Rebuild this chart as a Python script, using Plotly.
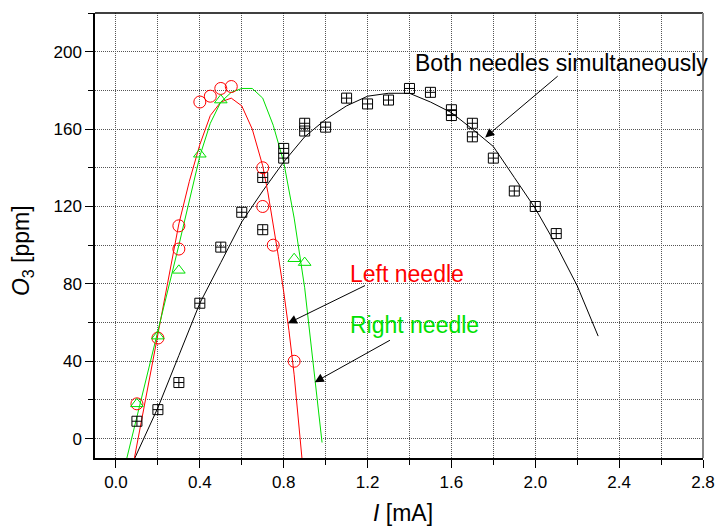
import plotly.graph_objects as go

# measured points, I [mA] vs O3 [ppm]
both_x = [0.1, 0.2, 0.3, 0.4, 0.5, 0.6, 0.7, 0.7, 0.8, 0.8, 0.9, 0.9, 1.0, 1.1, 1.2, 1.3,
          1.4, 1.5, 1.6, 1.6, 1.7, 1.7, 1.8, 1.9, 2.0, 2.1]
both_y = [9, 15, 29, 70, 99, 117, 108, 135, 145, 150, 159, 163, 161, 176, 173, 175,
          181, 179, 167, 170, 156, 163, 145, 128, 120, 106]

left_x = [0.1, 0.2, 0.3, 0.3, 0.4, 0.45, 0.5, 0.55, 0.7, 0.7, 0.75, 0.85]
left_y = [18, 52, 98, 110, 174, 177, 181, 182, 140, 120, 100, 40]

right_x = [0.1, 0.2, 0.3, 0.4, 0.5, 0.85, 0.9]
right_y = [18, 53, 87, 147, 175, 93, 91]

# fitted curves
both_fit_x = [0.09, 0.2, 0.3, 0.4, 0.5, 0.6, 0.7, 0.8, 0.9, 1.0, 1.1, 1.2, 1.3, 1.4,
              1.5, 1.6, 1.7, 1.8, 1.9, 2.0, 2.1, 2.2, 2.3]
both_fit_y = [-10, 16, 43, 70, 91, 112, 128, 143, 156, 165, 172, 177, 178.5, 178.5,
              174, 168.5, 160, 151, 135, 119, 100, 79, 53]

left_fit_x = [0.088, 0.2, 0.3, 0.35, 0.4, 0.45, 0.5, 0.55, 0.6, 0.65, 0.7, 0.725,
              0.75, 0.775, 0.8, 0.825, 0.85, 0.887]
left_fit_y = [-10, 54, 111, 133, 152, 167, 174, 176, 172, 160, 141, 127,
              111, 94, 76, 56, 33, -10]

right_fit_x = [0.052, 0.1, 0.2, 0.3, 0.4, 0.45, 0.5, 0.55, 0.6, 0.65, 0.7, 0.75,
               0.8, 0.85, 0.9, 0.95, 0.983]
right_fit_y = [-10, 11, 56, 100, 146, 163, 174, 179, 181, 181, 176, 162,
               143, 114, 78, 28, -2]

FONT = "Arial, Liberation Sans, sans-serif"
RED = "#ff0000"
GREEN = "#00e000"

fig = go.Figure()

fig.add_trace(go.Scatter(x=both_fit_x, y=both_fit_y, mode="lines",
                         line=dict(color="black", width=1)))
fig.add_trace(go.Scatter(x=left_fit_x, y=left_fit_y, mode="lines",
                         line=dict(color=RED, width=1)))
fig.add_trace(go.Scatter(x=right_fit_x, y=right_fit_y, mode="lines",
                         line=dict(color=GREEN, width=1)))

fig.add_trace(go.Scatter(x=both_x, y=both_y, mode="markers",
                         marker=dict(symbol="square-cross-open", size=10, color="black",
                                     line=dict(width=1, color="black"))))
fig.add_trace(go.Scatter(x=left_x, y=left_y, mode="markers",
                         marker=dict(symbol="circle-open", size=12, color=RED,
                                     line=dict(width=1, color=RED))))
fig.add_trace(go.Scatter(x=right_x, y=right_y, mode="markers",
                         marker=dict(symbol="triangle-up-open", size=11, color=GREEN,
                                     line=dict(width=1, color=GREEN))))

# labels with arrows
labels = [
    ("Both needles simultaneously", "black", 1.415, 194, 2.114, 188, 1.761, 155.7),
    ("Left needle", RED, 1.107, 85, 1.195, 79.5, 0.82, 59.6),
    ("Right needle", GREEN, 1.107, 58.5, 1.314, 51.3, 0.948, 29.2),
]
for txt, col, tx, ty, ax, ay, hx, hy in labels:
    fig.add_annotation(x=tx, y=ty, text=txt, showarrow=False, xanchor="left",
                       yanchor="middle", font=dict(family=FONT, size=23, color=col))
    fig.add_annotation(x=hx, y=hy, ax=ax, ay=ay, axref="x", ayref="y", text="",
                       showarrow=True, arrowhead=2, arrowsize=1.8, arrowwidth=1,
                       arrowcolor="black")

# axis titles
fig.add_annotation(xref="paper", yref="paper", x=-0.12, y=0.465, textangle=-90,
                   xanchor="center", yanchor="middle",
                   text="<i>O</i><sub>3</sub> [ppm]", showarrow=False,
                   font=dict(family=FONT, size=23, color="black"))
fig.add_annotation(xref="paper", yref="paper", x=0.507, y=-0.124,
                   xanchor="center", yanchor="middle",
                   text="<i>I</i> [mA]", showarrow=False,
                   font=dict(family=FONT, size=23, color="black"))

# top and right frame
fig.add_shape(type="line", xref="paper", yref="paper", x0=0, x1=1, y0=1, y1=1,
              line=dict(color="black", width=1.5))
fig.add_shape(type="line", xref="paper", yref="paper", x0=1, x1=1, y0=0, y1=1,
              line=dict(color="#888888", width=2))

grid = dict(showgrid=True, gridcolor="#555555", gridwidth=1, griddash="1px,1px")

fig.update_xaxes(range=[-0.1, 2.8], tick0=0, dtick=0.4, tickformat=".1f",
                 ticks="outside", ticklen=8, tickcolor="black", showline=True,
                 linecolor="black", linewidth=1.5, zeroline=False, automargin=False,
                 minor=dict(dtick=0.2, ticks="outside", ticklen=5, tickcolor="black", **grid),
                 tickfont=dict(family=FONT, size=17, color="black"),
                 **grid)
fig.update_yaxes(range=[-10, 220], tick0=0, dtick=40,
                 ticks="outside", ticklen=8, tickcolor="black", showline=True,
                 linecolor="black", linewidth=1.5, zeroline=False, automargin=False,
                 minor=dict(dtick=20, ticks="outside", ticklen=5, tickcolor="black", **grid),
                 tickfont=dict(family=FONT, size=17, color="black"),
                 **grid)

fig.update_layout(width=715, height=528, showlegend=False,
                  margin=dict(l=95, r=12, t=13, b=70),
                  plot_bgcolor="white", paper_bgcolor="white")

# page body has a default 8px margin, drop it so the figure sits at the window corner
fig.write_html("out.html", config={"displayModeBar": False},
               post_script="document.body.style.margin='0';")
